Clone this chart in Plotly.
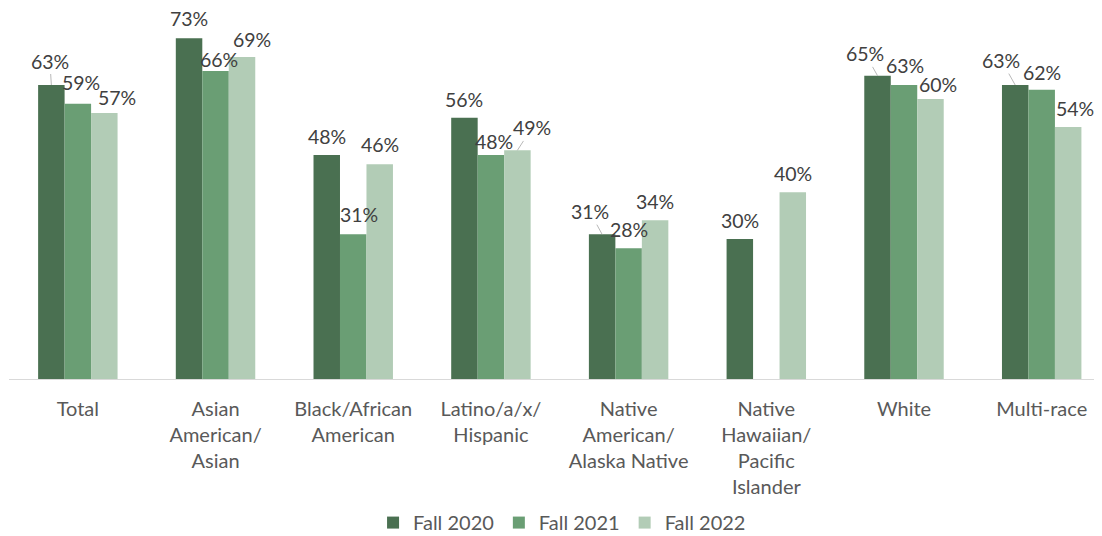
import plotly.graph_objects as go

# ---------------- data ----------------
categories = ["Total", "Asian American/Asian", "Black/African American",
              "Latino/a/x/Hispanic", "Native American/Alaska Native",
              "Native Hawaiian/Pacific Islander", "White", "Multi-race"]
tick_labels = ["Total", "Asian<br>American/<br>Asian", "Black/African<br>American",
               "Latino/a/x/<br>Hispanic", "Native<br>American/<br>Alaska Native",
               "Native<br>Hawaiian/<br>Pacific<br>Islander", "White", "Multi-race"]
series_names = ["Fall 2020", "Fall 2021", "Fall 2022"]
fall_2020 = [0.63, 0.73, 0.48, 0.56, 0.31, 0.30, 0.65, 0.63]
fall_2021 = [0.59, 0.66, 0.31, 0.48, 0.28, None, 0.63, 0.62]
fall_2022 = [0.57, 0.69, 0.46, 0.49, 0.34, 0.40, 0.60, 0.54]

# ---------------- style ----------------
colors = ["#4A7051", "#6A9E74", "#B2CCB6"]
FONT = "Lato"
bar_px = 26.5            # approx bar width in pixels
bar_offsets = [-bar_px, 0, bar_px]
# per-label tweak (dx, dy) in px relative to the top of the bar,
# and leader-line flag (Excel-style moved labels)
label_tweaks = {
    (0, 0): (-1.5, -24, True), (0, 1): (3, -21, False), (0, 2): (13, -16, False),
    (1, 0): (0, -19.5, False), (1, 1): (3, -12, False), (1, 2): (10, -18, False),
    (2, 0): (0, -19, False), (2, 1): (5.5, -19.5, False), (2, 2): (0, -19.5, False),
    (3, 0): (0, -18.5, False), (3, 1): (3, -13.5, False), (3, 2): (14.4, -22.4, True),
    (4, 0): (-12.3, -22.7, True), (4, 1): (0, -18.5, False), (4, 2): (0, -18.7, False),
    (5, 0): (0, -18.3, False), (5, 2): (0, -19, False),
    (6, 0): (-12.2, -21.8, True), (6, 1): (0.8, -20, False), (6, 2): (7.6, -15, False),
    (7, 0): (-13.7, -24.4, True), (7, 1): (0, -17, False), (7, 2): (6.6, -18.8, False),
}

all_series = [fall_2020, fall_2021, fall_2022]

fig = go.Figure()
for name, vals, col in zip(series_names, all_series, colors):
    fig.add_trace(go.Bar(x=categories, y=vals, name=name,
                         marker=dict(color=col, line=dict(width=0)),
                         hoverinfo="skip"))

annotations = []
for s, vals in enumerate(all_series):
    for i, v in enumerate(vals):
        if v is None:
            continue
        dx, dy, leader = label_tweaks.get((i, s), (0, -19, False))
        txt = f"{round(v * 100)}%"
        if leader:
            annotations.append(dict(
                x=categories[i], y=v, xref="x", yref="y", text=txt,
                showarrow=True, arrowhead=0, arrowwidth=0.8, arrowcolor="#A6A6A6",
                ax=dx, ay=dy, xshift=bar_offsets[s],
                font=dict(family=FONT, size=19.5, color="#404040")))
        else:
            annotations.append(dict(
                x=categories[i], y=v, xref="x", yref="y", text=txt,
                showarrow=False, xanchor="center", yanchor="middle",
                xshift=bar_offsets[s] + dx, yshift=-dy,
                font=dict(family=FONT, size=19.5, color="#404040")))

fig.update_layout(
    width=1094, height=528,
    margin=dict(l=1, r=0, t=0, b=157, autoexpand=False),
    paper_bgcolor="white", plot_bgcolor="white",
    barmode="group", bargap=0.423, bargroupgap=0,
    font=dict(family=FONT, size=20, color="#595959"),
    showlegend=True,
    legend=dict(orientation="h", x=0.506, xanchor="center", y=-0.387, yanchor="middle",
                font=dict(family=FONT, size=20, color="#595959"),
                itemwidth=30, traceorder="normal"),
    annotations=annotations,
)
fig.update_xaxes(
    type="category", range=[-0.5, 7.438],
    tickmode="array", tickvals=categories, ticktext=tick_labels,
    showline=True, linecolor="#D9D9D9", linewidth=1,
    showgrid=False, zeroline=False, ticks="", ticklabelstandoff=12,
    tickfont=dict(family=FONT, size=20, color="#595959"),
)
fig.update_yaxes(range=[0, 0.795], visible=False, showgrid=False, zeroline=False)

fig.write_html("out.html")
